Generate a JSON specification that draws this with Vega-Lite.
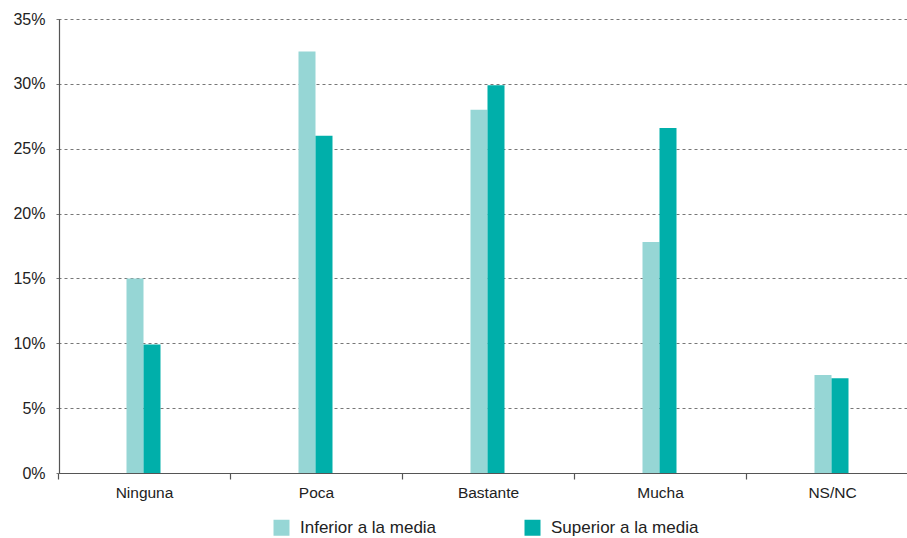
{
  "$schema": "https://vega.github.io/schema/vega-lite/v6.json",
  "width": 841,
  "height": 454,
  "autosize": {"type": "none"},
  "padding": {"left": 59, "top": 19, "right": 7, "bottom": 65},
  "background": "white",
  "config": {
    "view": {"stroke": null},
    "font": "Liberation Sans"
  },
  "data": {
    "values": [
      {"categoria": "Ninguna", "grupo": "Inferior a la media", "valor": 15.0},
      {"categoria": "Ninguna", "grupo": "Superior a la media", "valor": 9.9},
      {"categoria": "Poca", "grupo": "Inferior a la media", "valor": 32.5},
      {"categoria": "Poca", "grupo": "Superior a la media", "valor": 26.0},
      {"categoria": "Bastante", "grupo": "Inferior a la media", "valor": 28.0},
      {"categoria": "Bastante", "grupo": "Superior a la media", "valor": 29.9},
      {"categoria": "Mucha", "grupo": "Inferior a la media", "valor": 17.8},
      {"categoria": "Mucha", "grupo": "Superior a la media", "valor": 26.6},
      {"categoria": "NS/NC", "grupo": "Inferior a la media", "valor": 7.55},
      {"categoria": "NS/NC", "grupo": "Superior a la media", "valor": 7.3}
    ]
  },
  "mark": {"type": "bar"},
  "encoding": {
    "x": {
      "field": "categoria",
      "type": "nominal",
      "sort": ["Ninguna", "Poca", "Bastante", "Mucha", "NS/NC"],
      "scale": {"paddingInner": 0, "paddingOuter": 0, "range": [-1, 859]},
      "axis": {
        "title": null,
        "labelAngle": 0,
        "labelFontSize": 15.5,
        "labelColor": "#222",
        "labelPadding": 6,
        "domainColor": "#555",
        "domainWidth": 1.2,
        "ticks": true,
        "tickColor": "#555",
        "tickWidth": 1.2,
        "tickSize": 6,
        "tickBand": "extent",
        "grid": false
      }
    },
    "xOffset": {
      "field": "grupo",
      "type": "nominal",
      "scale": {"paddingInner": 0, "paddingOuter": 0, "range": [68.5, 102.5]}
    },
    "y": {
      "field": "valor",
      "type": "quantitative",
      "scale": {"domain": [0, 35], "nice": false},
      "axis": {
        "title": null,
        "values": [0, 5, 10, 15, 20, 25, 30, 35],
        "labelExpr": "datum.value + '%'",
        "labelFontSize": 16,
        "labelColor": "#222",
        "labelPadding": 8,
        "domainColor": "#555",
        "domainWidth": 1.2,
        "tickColor": "#777",
        "tickSize": 6,
        "tickDash": [3, 3],
        "grid": true,
        "gridColor": "#777",
        "gridDash": [3, 3],
        "gridWidth": 1
      }
    },
    "color": {
      "field": "grupo",
      "type": "nominal",
      "scale": {
        "domain": ["Inferior a la media", "Superior a la media"],
        "range": ["#96D6D5", "#00AFAA"]
      },
      "legend": {
        "title": null,
        "orient": "none",
        "direction": "horizontal",
        "legendX": 214,
        "legendY": 500,
        "symbolType": "square",
        "symbolSize": 256,
        "symbolStrokeWidth": 0,
        "labelFontSize": 17,
        "labelColor": "#222",
        "labelOffset": 10,
        "columnPadding": 87
      }
    }
  }
}
